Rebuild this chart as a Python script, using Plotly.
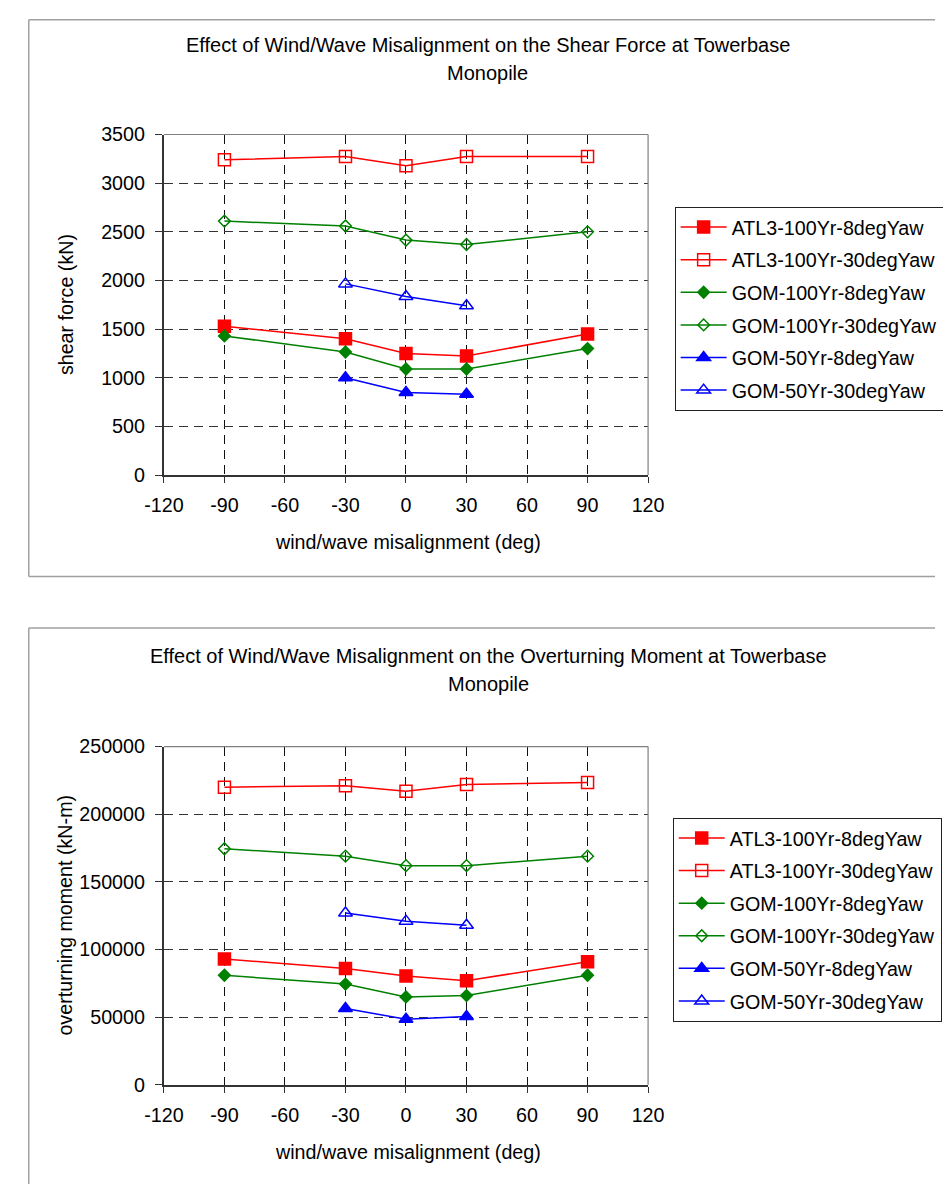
import plotly.graph_objects as go

# misalignment angles (deg)
angles = [-90, -30, 0, 30, 90]
angles_50yr = [-30, 0, 30]

series_names = ['ATL3-100Yr-8degYaw', 'ATL3-100Yr-30degYaw', 'GOM-100Yr-8degYaw',
                'GOM-100Yr-30degYaw', 'GOM-50Yr-8degYaw', 'GOM-50Yr-30degYaw']

# shear force at towerbase (kN)
shear_atl3_8 = [1530, 1400, 1250, 1225, 1450]
shear_atl3_30 = [3240, 3275, 3180, 3275, 3275]
shear_gom100_8 = [1430, 1265, 1090, 1090, 1300]
shear_gom100_30 = [2610, 2560, 2415, 2370, 2500]
shear_gom50_8 = [1000, 850, 830]
shear_gom50_30 = [1965, 1835, 1740]

# overturning moment at towerbase (kN-m)
moment_atl3_8 = [93000, 86000, 80500, 77000, 91000]
moment_atl3_30 = [220000, 221000, 217000, 222000, 223500]
moment_gom100_8 = [81000, 74500, 65000, 66000, 81000]
moment_gom100_30 = [174500, 169000, 162000, 162000, 169000]
moment_gom50_8 = [56500, 48500, 50500]
moment_gom50_30 = [127000, 121000, 118000]

x_ticks = [-120, -90, -60, -30, 0, 30, 60, 90, 120]
x_ticktext = ['-120', '-90', '-60', '-30', '0', '30', '60', '90', '120']

# the page body keeps its default 8px margin, so the figure is drawn 8px smaller
OFF = 8
W, H = 951 - OFF, 1195 - OFF
FONT = 'Arial, Liberation Sans, sans-serif'
FS = 19.7

styles = [
    dict(color='#FF0000', symbol='square', size=12),
    dict(color='#FF0000', symbol='square-open', size=12),
    dict(color='#008000', symbol='diamond', size=9),
    dict(color='#008000', symbol='diamond-open', size=9),
    dict(color='#0000FF', symbol='triangle-up', size=12),
    dict(color='#0000FF', symbol='triangle-up-open', size=12),
]


def px(x):
    return (x - OFF) / W


def py(y):
    return 1 - (y - OFF) / H


fig = go.Figure()

panels = [
    ('x', 'y', 'legend', [shear_atl3_8, shear_atl3_30, shear_gom100_8,
                          shear_gom100_30, shear_gom50_8, shear_gom50_30]),
    ('x2', 'y2', 'legend2', [moment_atl3_8, moment_atl3_30, moment_gom100_8,
                             moment_gom100_30, moment_gom50_8, moment_gom50_30]),
]

for xa, ya, leg, data in panels:
    for i, (name, vals) in enumerate(zip(series_names, data)):
        st = styles[i]
        xs = angles if len(vals) == len(angles) else angles_50yr
        fig.add_trace(go.Scatter(
            x=xs, y=vals, name=name, mode='lines+markers',
            xaxis=xa, yaxis=ya, legend=leg, legendgroup=f'{leg}_{i}',
            line=dict(color=st['color'], width=1.5),
            marker=dict(symbol=st['symbol'], size=st['size'], color=st['color'],
                        line=dict(color=st['color'], width=1.5)),
        ))

xdom = [px(149.3), px(652.7)]

common_x = dict(
    range=[-120, 120], tickvals=x_ticks, ticktext=x_ticktext, showgrid=True,
    gridcolor='#111111', griddash='9px,6px', gridwidth=1, zeroline=False,
    showline=True, linecolor='#333333', linewidth=1.5, ticks='outside', ticklen=6,
    tickcolor='#333333', ticklabelstandoff=6,
    tickfont=dict(size=FS, color='black', family=FONT),
    domain=xdom, fixedrange=True,
)
common_y = dict(
    showgrid=True, gridcolor='#333333', griddash='9px,6px', gridwidth=1,
    zeroline=False, showline=True, linecolor='#333333', linewidth=2,
    ticks='outside', ticklen=7, tickcolor='#333333', ticklabelstandoff=6,
    tickfont=dict(size=FS, color='black', family=FONT), tickformat='d',
    fixedrange=True,
)

legend_style = dict(xanchor='left', yanchor='top', bgcolor='white',
                    bordercolor='#222222', borderwidth=1,
                    font=dict(size=FS, family=FONT, color='black'),
                    itemwidth=46, tracegroupgap=4)

fig.update_layout(
    width=W, height=H,
    margin=dict(l=0, r=0, t=0, b=0),
    paper_bgcolor='white', plot_bgcolor='white',
    font=dict(family=FONT, color='black'),
    xaxis=dict(anchor='y', **common_x),
    yaxis=dict(anchor='x', range=[0, 3500], dtick=500,
               domain=[py(472.7), py(125.7)], **common_y),
    xaxis2=dict(anchor='y2', **common_x),
    yaxis2=dict(anchor='x2', range=[0, 250000], dtick=50000,
                domain=[py(1094), py(749.3)], **common_y),
    legend=dict(x=px(680.3), y=py(199.3), **legend_style),
    legend2=dict(x=px(678.3), y=py(821.7), **legend_style),
    showlegend=True,
)

shapes = []


def frame_line(x0, y0, x1, y1):
    shapes.append(dict(type='line', xref='paper', yref='paper',
                       x0=px(x0), y0=py(y0), x1=px(x1), y1=py(y1),
                       line=dict(color='#A0A0A0', width=1.5)))


# outer chart frames (their right / bottom edges run off the page)
frame_line(8.8, 8.8, 951, 8.8)
frame_line(8.8, 8.8, 8.8, 576)
frame_line(8.8, 576, 951, 576)
frame_line(8.8, 628.5, 951, 628.5)
frame_line(8.8, 628.5, 8.8, 1195)

# plot area border (top and right edges)
for xa, ya in [('x', 'y'), ('x2', 'y2')]:
    shapes.append(dict(type='line', xref=f'{xa} domain', yref=f'{ya} domain',
                       x0=0, x1=1, y0=1, y1=1, line=dict(color='#808080', width=1.2)))
    shapes.append(dict(type='line', xref=f'{xa} domain', yref=f'{ya} domain',
                       x0=1, x1=1, y0=0, y1=1, line=dict(color='#808080', width=1.2)))
fig.update_layout(shapes=shapes)

annotations = []


def label(text, x, y, size=FS, angle=0):
    annotations.append(dict(text=text, x=px(x), y=py(y), xref='paper', yref='paper',
                            showarrow=False, xanchor='center', yanchor='middle',
                            textangle=angle, font=dict(size=size, family=FONT, color='black')))


label('Effect of Wind/Wave Misalignment on the Shear Force at Towerbase', 486, 34, 20)
label('Monopile', 486, 63, 20)
label('wind/wave misalignment (deg)', 403, 541)
label('shear force (kN)', 47, 299, angle=-90)

label('Effect of Wind/Wave Misalignment on the Overturning Moment at Towerbase', 487, 657, 20)
label('Monopile', 487, 686, 20)
label('wind/wave misalignment (deg)', 403, 1162)
label('overturning moment (kN-m)', 47, 921, angle=-90)

fig.update_layout(annotations=annotations)

fig.write_html('out.html', config={'displayModeBar': False})
